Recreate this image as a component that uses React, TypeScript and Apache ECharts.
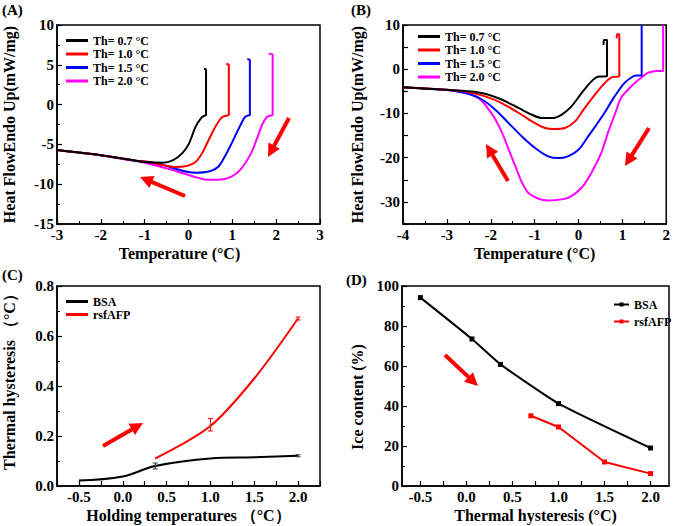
import React, { useEffect, useRef } from "react";
import * as echarts from "echarts";

const FONT = "'Liberation Serif', 'Times New Roman', serif";

// Panel A: DSC curves (x: temperature °C, y: heat flow mW/mg)
const aLabels = ["Th= 0.7 °C", "Th= 1.0 °C", "Th= 1.5 °C", "Th= 2.0 °C"];
const aBlack = [[0.35, 4.5], [0.4, 4.4], [0.4, -1.3], [0.36, -1.4], [0.3, -1.6], [0.16, -2.8], [0.01, -4.9], [-0.14, -6.1], [-0.36, -7.0], [-0.59, -7.3], [-0.89, -7.25], [-1.2, -7.05], [-2, -6.35], [-3, -5.7]];
const aRed = [[0.86, 5.1], [0.92, 5.0], [0.92, -1.3], [0.86, -1.4], [0.76, -1.6], [0.61, -2.8], [0.46, -4.45], [0.31, -6.1], [0.16, -7.2], [-0.03, -7.7], [-0.29, -7.85], [-0.59, -7.6], [-0.9, -7.2], [-1.2, -7.05], [-2, -6.35], [-3, -5.7]];
const aBlue = [[1.34, 5.7], [1.4, 5.6], [1.4, -1.3], [1.34, -1.4], [1.28, -1.6], [1.13, -3.2], [0.98, -4.9], [0.83, -6.5], [0.68, -7.8], [0.46, -8.4], [0.16, -8.55], [-0.14, -8.3], [-0.44, -7.8], [-0.75, -7.35], [-1.2, -7.05], [-2, -6.35], [-3, -5.7]];
const aMagenta = [[1.83, 6.4], [1.92, 6.3], [1.92, -1.3], [1.86, -1.4], [1.8, -1.5], [1.69, -2.4], [1.58, -4.0], [1.43, -6.1], [1.21, -8.0], [0.98, -9.05], [0.68, -9.45], [0.38, -9.4], [0.16, -9.1], [-0.14, -8.6], [-0.44, -8.1], [-0.81, -7.55], [-1.2, -7.1], [-2, -6.35], [-3, -5.7]];

// Panel B
const bBlack = [[0.57, 5.5], [0.58, 6.6], [0.65, 6.6], [0.65, -1.6], [0.56, -1.65], [0.44, -1.7], [0.29, -2.8], [0.07, -5.4], [-0.16, -8.4], [-0.39, -10.3], [-0.61, -11.05], [-0.84, -11.05], [-1.06, -10.3], [-1.36, -8.8], [-1.74, -6.9], [-2.11, -5.6], [-2.49, -5.0], [-3, -4.66], [-4, -4.06]];
const bRed = [[0.87, 7.0], [0.88, 7.9], [0.93, 7.9], [0.93, -1.6], [0.84, -1.7], [0.74, -1.9], [0.59, -3.2], [0.37, -5.8], [0.14, -8.8], [-0.08, -11.8], [-0.31, -13.3], [-0.54, -13.5], [-0.76, -13.3], [-1.06, -11.8], [-1.36, -9.9], [-1.74, -7.7], [-2.11, -6.2], [-2.49, -5.2], [-3, -4.66], [-4, -4.06]];
const bBlue = [[1.44, 10], [1.44, -1.4], [1.33, -1.4], [1.23, -1.7], [1.04, -3.2], [0.82, -6.2], [0.59, -9.9], [0.44, -12.1], [0.22, -15.2], [0, -18.2], [-0.24, -19.7], [-0.46, -20.1], [-0.69, -19.7], [-0.99, -17.8], [-1.29, -15.2], [-1.59, -12.2], [-1.89, -9.2], [-2.19, -6.9], [-2.49, -5.6], [-2.87, -4.8], [-3, -4.7], [-4, -4.06]];
const bMagenta = [[1.93, 10], [1.93, -0.4], [1.8, -0.4], [1.72, -0.45], [1.57, -0.9], [1.42, -2.0], [1.2, -3.9], [0.97, -6.5], [0.84, -9.9], [0.67, -14.4], [0.52, -18.9], [0.29, -23.5], [0.07, -26.8], [-0.24, -29.1], [-0.54, -29.6], [-0.69, -29.7], [-0.91, -29.3], [-1.14, -28], [-1.29, -25.6], [-1.44, -21.9], [-1.59, -18.2], [-1.74, -14.4], [-1.89, -11.4], [-2.04, -9.2], [-2.19, -7.3], [-2.34, -6.2], [-2.57, -5.4], [-3, -4.7], [-4, -4.06]];

// Panel C: thermal hysteresis vs holding temperature
const cBSA = [[-0.5, 0.022], [0.0, 0.038], [0.37, 0.08], [1.0, 0.11], [1.5, 0.115], [2.0, 0.121]];
const cRsf = [[0.37, 0.11], [1.0, 0.24], [1.5, 0.43], [2.0, 0.67]];
const cBSAErr = [[0.37, 0.08, 0.012], [2.0, 0.121, 0.004]];
const cRsfErr = [[1.0, 0.245, 0.025], [2.0, 0.67, 0.006]];

// Panel D: ice content vs thermal hysteresis
const dBSA = [[-0.5, 94.2], [0.06, 73.5], [0.37, 60.8], [1.0, 41.2], [2.0, 19.0]];
const dRsf = [[0.7, 35.1], [1.0, 29.5], [1.5, 12.0], [2.0, 6.2]];

const aColors = ["#000000", "#ff0000", "#0000ff", "#ff00ff"];

const LABEL = { color: "#000", fontFamily: FONT, fontWeight: "bold", fontSize: 15, margin: 3 };
const NAME = { color: "#000", fontFamily: FONT, fontWeight: "bold", fontSize: 16 };

function xAxis(gi: number, opts: any) {
  return {
    type: "value",
    gridIndex: gi,
    nameLocation: "middle",
    axisLine: { onZero: false, lineStyle: { color: "#000", width: 1.5 } },
    axisTick: { inside: true, length: 5, lineStyle: { color: "#000", width: 1.2 } },
    minorTick: { show: true, splitNumber: 2, length: 3, lineStyle: { color: "#000", width: 1 } },
    splitLine: { show: false },
    axisLabel: LABEL,
    nameTextStyle: NAME,
    ...opts,
  };
}

function yAxis(gi: number, opts: any) {
  return {
    type: "value",
    gridIndex: gi,
    nameLocation: "middle",
    axisLine: { onZero: false, lineStyle: { color: "#000", width: 1.5 } },
    axisTick: { inside: true, length: 5, lineStyle: { color: "#000", width: 1.2 } },
    minorTick: { show: true, splitNumber: 2, length: 3, lineStyle: { color: "#000", width: 1 } },
    splitLine: { show: false },
    axisLabel: LABEL,
    nameTextStyle: NAME,
    ...opts,
  };
}

function arrow(tail: number[], tip: number[]) {
  const dx = tip[0] - tail[0];
  const dy = tip[1] - tail[1];
  const len = Math.sqrt(dx * dx + dy * dy);
  const ux = dx / len, uy = dy / len;
  const hl = 13, hw = 6.5;
  const bx = tip[0] - ux * hl, by = tip[1] - uy * hl;
  return {
    type: "group",
    children: [
      { type: "line", shape: { x1: tail[0], y1: tail[1], x2: tip[0] - ux * 6, y2: tip[1] - uy * 6 }, style: { stroke: "#ff0000", lineWidth: 4 } },
      { type: "polygon", shape: { points: [[tip[0], tip[1]], [bx - uy * hw, by + ux * hw], [bx + uy * hw, by - ux * hw]] }, style: { fill: "#ff0000" } },
    ],
  };
}

function errSeries(data: number[][], color: string, gi: number) {
  return {
    type: "custom",
    xAxisIndex: gi,
    yAxisIndex: gi,
    data,
    z: 5,
    renderItem: (params: any, api: any) => {
      const x = api.value(0), y = api.value(1), e = api.value(2);
      const t = api.coord([x, y + e]);
      const b = api.coord([x, y - e]);
      return {
        type: "group",
        children: [
          { type: "line", shape: { x1: t[0], y1: t[1], x2: b[0], y2: b[1] }, style: { stroke: color, lineWidth: 1 } },
          { type: "line", shape: { x1: t[0] - 2.5, y1: t[1], x2: t[0] + 2.5, y2: t[1] }, style: { stroke: color, lineWidth: 1 } },
          { type: "line", shape: { x1: b[0] - 2.5, y1: b[1], x2: b[0] + 2.5, y2: b[1] }, style: { stroke: color, lineWidth: 1 } },
        ],
      };
    },
  };
}

const legendText = { color: "#000", fontFamily: FONT, fontWeight: "bold", fontSize: 12, lineHeight: 13 };

export default function App() {
  const ref = useRef<HTMLDivElement>(null);
  useEffect(() => {
    if (!ref.current) return;
    const chart = echarts.init(ref.current, null, { renderer: "svg" });
    const aData = [aBlack, aRed, aBlue, aMagenta];
    const bData = [bBlack, bRed, bBlue, bMagenta];
    const series: any[] = [];
    aData.forEach((d, i) => {
      series.push({ type: "line", name: aLabels[i] + "|A", xAxisIndex: 0, yAxisIndex: 0, data: d, smooth: 0.25, showSymbol: false, lineStyle: { width: 2, color: aColors[i] }, itemStyle: { color: aColors[i] }, z: 4 - i });
    });
    bData.forEach((d, i) => {
      series.push({ type: "line", name: aLabels[i] + "|B", xAxisIndex: 1, yAxisIndex: 1, data: d, smooth: 0.3, showSymbol: false, lineStyle: { width: 2, color: aColors[i] }, itemStyle: { color: aColors[i] }, z: 4 - i });
    });
    series.push({ type: "line", name: "BSA|C", xAxisIndex: 2, yAxisIndex: 2, data: cBSA, smooth: 0.4, showSymbol: false, lineStyle: { width: 2, color: "#000" }, itemStyle: { color: "#000" } });
    series.push({ type: "line", name: "rsfAFP|C", xAxisIndex: 2, yAxisIndex: 2, data: cRsf, smooth: 0.3, showSymbol: false, lineStyle: { width: 2, color: "#ff0000" }, itemStyle: { color: "#ff0000" } });
    series.push(errSeries(cBSAErr, "#333", 2));
    series.push(errSeries(cRsfErr, "#ff0000", 2));
    series.push({ type: "line", name: "BSA|D", xAxisIndex: 3, yAxisIndex: 3, data: dBSA, smooth: 0.15, symbol: "rect", symbolSize: 5, lineStyle: { width: 2, color: "#000" }, itemStyle: { color: "#000" } });
    series.push({ type: "line", name: "rsfAFP|D", xAxisIndex: 3, yAxisIndex: 3, data: dRsf, symbol: "rect", symbolSize: 5, lineStyle: { width: 2, color: "#ff0000" }, itemStyle: { color: "#ff0000" } });

    const fmt = (n: string) => n.split("|")[0];
    const option: any = {
      animation: false,
      backgroundColor: "#fff",
      grid: [
        { left: 52, top: 25, width: 268, height: 199, show: true, borderColor: "#000", borderWidth: 1.5, backgroundColor: "transparent" },
        { left: 403, top: 25, width: 265, height: 199, show: true, borderColor: "#000", borderWidth: 1.5, backgroundColor: "transparent" },
        { left: 52, top: 286, width: 268, height: 200, show: true, borderColor: "#000", borderWidth: 1.5, backgroundColor: "transparent" },
        { left: 402, top: 286, width: 267, height: 200, show: true, borderColor: "#000", borderWidth: 1.5, backgroundColor: "transparent" },
      ],
      xAxis: [
        xAxis(0, { min: -3, max: 3, interval: 1, name: "Temperature (°C)", nameGap: 21, nameTextStyle: { ...NAME, padding: [0, 18, 0, 0] } }),
        xAxis(1, { min: -4, max: 2, interval: 1, name: "Temperature (°C)", nameGap: 21 }),
        xAxis(2, {
          min: -0.75, max: 2.25, interval: 0.25, name: "Holding temperatures （°C）", nameGap: 21,
          minorTick: { show: false },
          axisLabel: { ...LABEL, formatter: (v: number) => (Math.abs(v * 2 - Math.round(v * 2)) < 1e-6 ? v.toFixed(1) : "") },
        }),
        xAxis(3, {
          min: -0.7, max: 2.2, name: "Thermal hysteresis (°C)", nameGap: 21,
          minorTick: { show: false },
          axisTick: { inside: true, length: 5, lineStyle: { color: "#000", width: 1.2 }, customValues: [-0.5, -0.25, 0, 0.25, 0.5, 0.75, 1, 1.25, 1.5, 1.75, 2] },
          axisLabel: { ...LABEL, customValues: [-0.5, 0, 0.5, 1, 1.5, 2], formatter: (v: number) => v.toFixed(1) },
        }),
      ],
      yAxis: [
        yAxis(0, { min: -15, max: 10, interval: 5, name: "Heat FlowEndo Up(mW/mg)", nameGap: 40 }),
        yAxis(1, {
          min: -35, max: 10, interval: 5, name: "Heat FlowEndo Up(mW/mg)", nameGap: 38,
          minorTick: { show: false },
          axisLabel: { ...LABEL, formatter: (v: number) => (v % 10 === 0 ? String(v) : "") },
        }),
        yAxis(2, {
          min: 0, max: 0.8, interval: 0.2, name: "Thermal hysteresis （°C）", nameGap: 40,
          axisLabel: { ...LABEL, formatter: (v: number) => v.toFixed(1) },
          nameTextStyle: { ...NAME, padding: [0, 0, 0, 16] },
        }),
        yAxis(3, {
          min: 0, max: 100, interval: 20, name: "Ice content (%)", nameGap: 37,
          nameTextStyle: { ...NAME, padding: [0, 22, 0, 0] },
        }),
      ],
      legend: [
        { left: 61, top: 29, orient: "vertical", icon: "rect", itemWidth: 22, itemHeight: 3, itemGap: 0.5, data: aLabels.map((l) => l + "|A"), formatter: fmt, textStyle: legendText, selectedMode: false },
        { left: 413, top: 25, orient: "vertical", icon: "rect", itemWidth: 22, itemHeight: 3, itemGap: 0.5, data: aLabels.map((l) => l + "|B"), formatter: fmt, textStyle: legendText, selectedMode: false },
        { left: 61, top: 290, orient: "vertical", icon: "rect", itemWidth: 22, itemHeight: 3, itemGap: 0, data: ["BSA|C", "rsfAFP|C"], formatter: fmt, textStyle: legendText, selectedMode: false },
        { left: 608, top: 293, orient: "vertical", itemWidth: 15, itemHeight: 5, itemGap: 4, data: ["BSA|D", "rsfAFP|D"], formatter: fmt, textStyle: legendText, selectedMode: false },
      ],
      graphic: [
        { type: "text", left: 2, top: 2, style: { text: "(A)", fill: "#000", font: `bold 15px ${FONT}` } },
        { type: "text", left: 351, top: 2, style: { text: "(B)", fill: "#000", font: `bold 15px ${FONT}` } },
        { type: "text", left: 2, top: 267, style: { text: "(C)", fill: "#000", font: `bold 15px ${FONT}` } },
        { type: "text", left: 346, top: 272, style: { text: "(D)", fill: "#000", font: `bold 15px ${FONT}` } },
        arrow([185, 196], [140, 177]),
        arrow([289, 118], [268, 157]),
        arrow([508, 181], [486, 144]),
        arrow([649, 128], [625, 166]),
        arrow([103, 446], [143, 423]),
        arrow([445, 355], [478, 386]),
      ],
      series,
    };
    chart.setOption(option);
    return () => chart.dispose();
  }, []);
  return <div ref={ref} style={{ position: "fixed", left: 0, top: 0, width: 673, height: 526 }} />;
}
